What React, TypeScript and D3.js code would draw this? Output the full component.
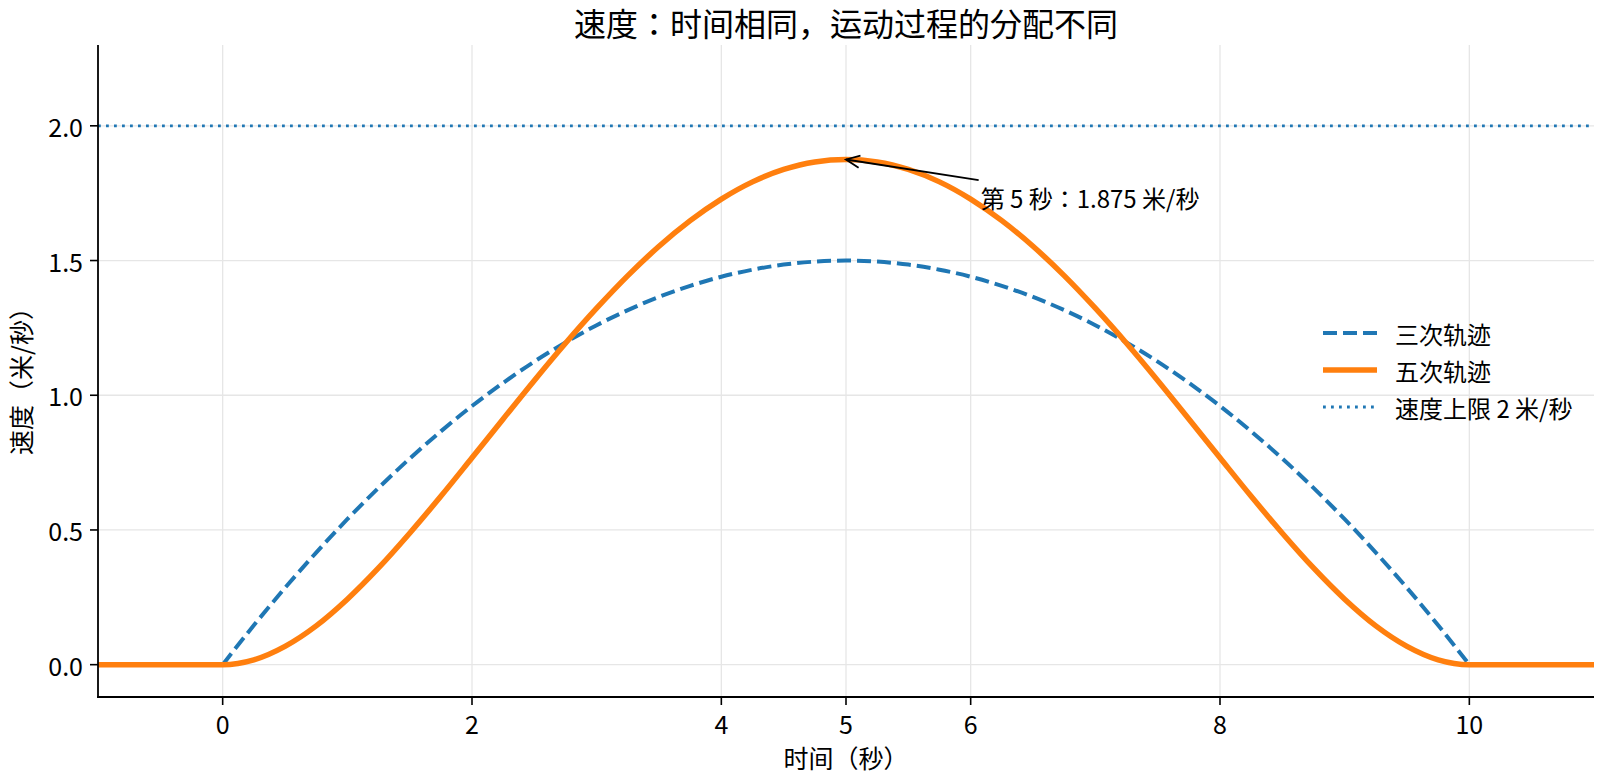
import * as d3 from "d3";

// time samples (s) and velocities (m/s)
const timeCubic = [
  0, 0.25, 0.5, 0.75, 1, 1.25, 1.5, 1.75, 2, 2.25, 2.5, 2.75, 3, 3.25, 3.5, 3.75, 4, 4.25, 4.5, 4.75, 5,
  5.25, 5.5, 5.75, 6, 6.25, 6.5, 6.75, 7, 7.25, 7.5, 7.75, 8, 8.25, 8.5, 8.75, 9, 9.25, 9.5, 9.75, 10,
];
const velCubic = [
  0, 0.146, 0.285, 0.416, 0.54, 0.656, 0.765, 0.866, 0.96, 1.046, 1.125, 1.196, 1.26, 1.316, 1.365, 1.406, 1.44, 1.466, 1.485, 1.496, 1.5,
  1.496, 1.485, 1.466, 1.44, 1.406, 1.365, 1.316, 1.26, 1.196, 1.125, 1.046, 0.96, 0.866, 0.765, 0.656, 0.54, 0.416, 0.285, 0.146, 0,
];

const timeQuintic = [
  -1, -0.75, -0.5, -0.25,
  0, 0.25, 0.5, 0.75, 1, 1.25, 1.5, 1.75, 2, 2.25, 2.5, 2.75, 3, 3.25, 3.5, 3.75, 4, 4.25, 4.5, 4.75, 5,
  5.25, 5.5, 5.75, 6, 6.25, 6.5, 6.75, 7, 7.25, 7.5, 7.75, 8, 8.25, 8.5, 8.75, 9, 9.25, 9.5, 9.75, 10,
  10.25, 10.5, 10.75, 11,
];
const velQuintic = [
  0, 0, 0, 0,
  0, 0.018, 0.068, 0.144, 0.243, 0.359, 0.488, 0.625, 0.768, 0.912, 1.055, 1.193, 1.323, 1.444, 1.553, 1.648, 1.728, 1.792, 1.838, 1.866, 1.875,
  1.866, 1.838, 1.792, 1.728, 1.648, 1.553, 1.444, 1.323, 1.193, 1.055, 0.912, 0.768, 0.625, 0.488, 0.359, 0.243, 0.144, 0.068, 0.018, 0,
  0, 0, 0, 0,
];

const speedLimit = 2;
const xTicks = [0, 2, 4, 5, 6, 8, 10];
const yTicks = [0, 0.5, 1.0, 1.5, 2.0];
const legendLabels = ["三次轨迹", "五次轨迹", "速度上限 2 米/秒"];
const peak = { t: 5, v: 1.875, label: "第 5 秒：1.875 米/秒", textT: 6.08, textV: 1.735 };

const title = "速度：时间相同，运动过程的分配不同";
const xLabel = "时间（秒）";
const yLabel = "速度（米/秒）";

const W = 1600;
const H = 783;
const left = 98, right = 1594, top = 45, bottom = 697;
const blue = "#1f77b4";
const orange = "#ff7f0e";
const font = "'Noto Sans CJK JP', 'Noto Sans CJK SC', 'Noto Sans', sans-serif";

export default function App() {
  const x = d3.scaleLinear([-1, 11], [left, right]);
  const y = d3.scaleLinear([-0.12, 2.3], [bottom, top]);

  const line = d3
    .line<[number, number]>()
    .x((d) => x(d[0]))
    .y((d) => y(d[1]))
    .curve(d3.curveMonotoneX);

  const cubic = timeCubic.map((t, i) => [t, velCubic[i]] as [number, number]);
  const quintic = timeQuintic.map((t, i) => [t, velQuintic[i]] as [number, number]);

  // annotation arrow: from text bbox edge toward the peak point
  const tx = x(peak.textT);
  const ty = y(peak.textV);
  const textW = 218;
  const cx = tx + textW / 2;
  const px = x(peak.t);
  const py = y(peak.v);
  const tt = (cx - tx + 2) / (cx - px);
  const ax = cx + (px - cx) * tt;
  const ay = ty + (py - ty) * tt;
  const ang = Math.atan2(py - ay, px - ax);
  const hl = 15;
  const hw = 0.42;
  const h1 = [px - hl * Math.cos(ang - hw), py - hl * Math.sin(ang - hw)];
  const h2 = [px - hl * Math.cos(ang + hw), py - hl * Math.sin(ang + hw)];

  const legX = 1323;
  const legY = 333;
  const legStep = 37;

  return (
    <svg
      width={W}
      height={H}
      style={{ position: "absolute", left: 0, top: 0, background: "#fff" }}
      fontFamily={font}
    >
      <rect width={W} height={H} fill="#fff" />
      {/* grid */}
      <g stroke="#e6e6e6" strokeWidth={1.3}>
        {xTicks.map((t) => (
          <line key={"gx" + t} x1={x(t)} x2={x(t)} y1={top} y2={bottom} />
        ))}
        {yTicks.map((t) => (
          <line key={"gy" + t} x1={left} x2={right} y1={y(t)} y2={y(t)} />
        ))}
      </g>

      {/* speed limit */}
      <line
        x1={left}
        x2={right}
        y1={y(speedLimit)}
        y2={y(speedLimit)}
        stroke={blue}
        strokeWidth={2.8}
        strokeDasharray="2.8,5.2"
      />

      <path d={line(cubic)} fill="none" stroke={blue} strokeWidth={4} strokeDasharray="14,6" />
      <path d={line(quintic)} fill="none" stroke={orange} strokeWidth={5.5} strokeLinejoin="round" />

      {/* spines */}
      <g stroke="#000" strokeWidth={1.8}>
        <line x1={left} x2={left} y1={top} y2={bottom + 0.9} />
        <line x1={left - 0.9} x2={right} y1={bottom} y2={bottom} />
      </g>

      {/* x ticks */}
      <g fontSize={25} textAnchor="middle">
        {xTicks.map((t) => (
          <g key={"xt" + t}>
            <line x1={x(t)} x2={x(t)} y1={bottom} y2={bottom + 8} stroke="#000" strokeWidth={1.6} />
            <text x={x(t)} y={bottom + 37}>
              {t}
            </text>
          </g>
        ))}
      </g>

      {/* y ticks */}
      <g fontSize={25} textAnchor="end">
        {yTicks.map((t) => (
          <g key={"yt" + t}>
            <line x1={left - 8} x2={left} y1={y(t)} y2={y(t)} stroke="#000" strokeWidth={1.6} />
            <text x={left - 15} y={y(t)} dominantBaseline="central">
              {t.toFixed(1)}
            </text>
          </g>
        ))}
      </g>

      {/* labels */}
      <text x={(left + right) / 2} y={768} fontSize={25} textAnchor="middle">
        {xLabel}
      </text>
      <text
        transform={`translate(20,${(top + bottom) / 2 + 4}) rotate(-90)`}
        fontSize={25}
        textAnchor="middle"
        dominantBaseline="central"
      >
        {yLabel}
      </text>
      <text x={(left + right) / 2} y={22} fontSize={32} textAnchor="middle" dominantBaseline="central">
        {title}
      </text>

      {/* annotation */}
      <g stroke="#000" strokeWidth={1.8} fill="none">
        <line x1={ax} y1={ay} x2={px} y2={py} />
        <polyline points={`${h1[0]},${h1[1]} ${px},${py} ${h2[0]},${h2[1]}`} />
      </g>
      <text x={tx} y={ty} fontSize={24} dominantBaseline="central">
        {peak.label}
      </text>

      {/* legend */}
      <g fontSize={24}>
        <line x1={legX} x2={legX + 54} y1={legY} y2={legY} stroke={blue} strokeWidth={4} strokeDasharray="14,6" />
        <line x1={legX} x2={legX + 54} y1={legY + legStep} y2={legY + legStep} stroke={orange} strokeWidth={5.5} />
        <line
          x1={legX}
          x2={legX + 54}
          y1={legY + 2 * legStep}
          y2={legY + 2 * legStep}
          stroke={blue}
          strokeWidth={2.8}
          strokeDasharray="2.8,5.2"
        />
        {legendLabels.map((l, i) => (
          <text key={l} x={legX + 72} y={legY + i * legStep} dominantBaseline="central">
            {l}
          </text>
        ))}
      </g>
    </svg>
  );
}
